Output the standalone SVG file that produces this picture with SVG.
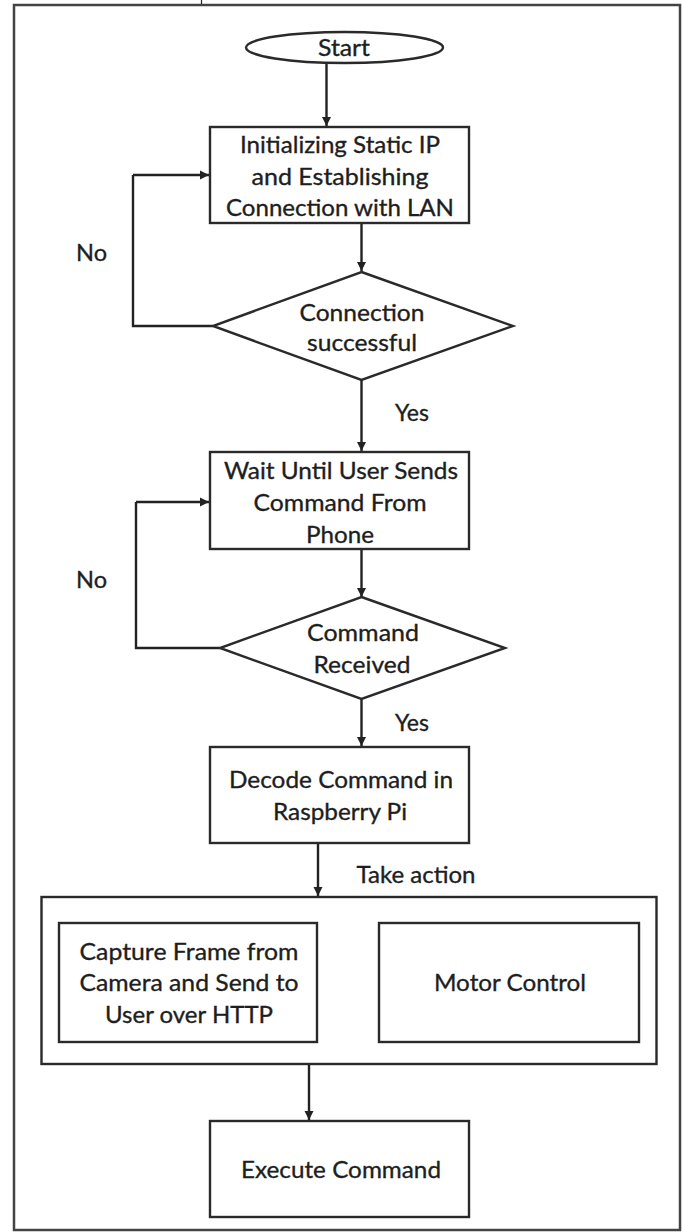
<svg xmlns="http://www.w3.org/2000/svg" width="683" height="1232" viewBox="0 0 683 1232">
<defs>
<marker id="ah" markerWidth="10" markerHeight="10" refX="9" refY="5" orient="auto" markerUnits="userSpaceOnUse">
<path d="M0,0.5 L9,5 L0,9.5 Z" fill="#222"/>
</marker>
<style>
.n{fill:#fff;stroke:#2a2a2a;stroke-width:2.4}
.c{fill:none;stroke:#222;stroke-width:2.4;marker-end:url(#ah)}
.l{fill:none;stroke:#222;stroke-width:2.4}
text{font-family:Lato,"Open Sans","Liberation Sans",sans-serif;font-size:24px;fill:#1e1e1e;stroke:#1e1e1e;stroke-width:0.35;text-anchor:middle}
</style>
</defs>
<rect x="0" y="0" width="683" height="1232" fill="#fff"/>
<rect x="14" y="5" width="666" height="1225" fill="none" stroke="#444" stroke-width="2.5"/>
<path d="M201.5,0 V4" stroke="#222" stroke-width="1.2"/>

<g id="connectors">
<path class="c" d="M326.5,63 V126"/>
<path class="c" d="M361.5,223 V271"/>
<path class="l" d="M213,326 H133 V175"/>
<path class="c" d="M133,175 H209"/>
<path class="c" d="M361.5,380 V451"/>
<path class="c" d="M361.5,549 V597"/>
<path class="l" d="M220,648 H136 V502"/>
<path class="c" d="M136,502 H209"/>
<path class="c" d="M361.5,699 V746"/>
<path class="c" d="M318,843 V896"/>
<path class="c" d="M309,1064 V1120"/>
<text x="91.5" y="261" textLength="31" lengthAdjust="spacingAndGlyphs">No</text>
<text x="412" y="421" textLength="34" lengthAdjust="spacingAndGlyphs">Yes</text>
<text x="91.5" y="588" textLength="31" lengthAdjust="spacingAndGlyphs">No</text>
<text x="412" y="731" textLength="34" lengthAdjust="spacingAndGlyphs">Yes</text>
<text x="416" y="883" textLength="119" lengthAdjust="spacingAndGlyphs">Take action</text>
</g>

<g id="start">
<ellipse class="n" cx="344.5" cy="47.5" rx="98.5" ry="15.5"/>
<text x="344" y="56" textLength="52" lengthAdjust="spacingAndGlyphs">Start</text>
</g>

<g id="init">
<rect class="n" x="210" y="127" width="259" height="96"/>
<text x="340" y="153" textLength="200" lengthAdjust="spacingAndGlyphs">Initializing Static IP</text>
<text x="340" y="185" textLength="177" lengthAdjust="spacingAndGlyphs">and Establishing</text>
<text x="340" y="216" textLength="228" lengthAdjust="spacingAndGlyphs">Connection with LAN</text>
</g>

<g id="conn-ok">
<polygon class="n" points="361.5,272 513,326 361.5,380 213,326"/>
<text x="362" y="321" textLength="125" lengthAdjust="spacingAndGlyphs">Connection</text>
<text x="362" y="351" textLength="110" lengthAdjust="spacingAndGlyphs">successful</text>
</g>

<g id="wait">
<rect class="n" x="210" y="452" width="259" height="97"/>
<text x="341" y="479" textLength="234" lengthAdjust="spacingAndGlyphs">Wait Until User Sends</text>
<text x="340" y="511" textLength="173" lengthAdjust="spacingAndGlyphs">Command From</text>
<text x="340" y="543" textLength="68" lengthAdjust="spacingAndGlyphs">Phone</text>
</g>

<g id="cmd-recv">
<polygon class="n" points="361.5,597 505,648 361.5,699 220,648"/>
<text x="363" y="641" textLength="112" lengthAdjust="spacingAndGlyphs">Command</text>
<text x="362" y="673" textLength="97" lengthAdjust="spacingAndGlyphs">Received</text>
</g>

<g id="decode">
<rect class="n" x="210" y="747" width="259" height="96"/>
<text x="341" y="788" textLength="224" lengthAdjust="spacingAndGlyphs">Decode Command in</text>
<text x="340" y="820" textLength="134" lengthAdjust="spacingAndGlyphs">Raspberry Pi</text>
</g>

<g id="action">
<rect class="n" x="41.5" y="897" width="615" height="167"/>
</g>

<g id="capture">
<rect class="n" x="59" y="923" width="258" height="119"/>
<text x="189" y="960" textLength="219" lengthAdjust="spacingAndGlyphs">Capture Frame from</text>
<text x="189" y="991" textLength="219" lengthAdjust="spacingAndGlyphs">Camera and Send to</text>
<text x="189" y="1023" textLength="168" lengthAdjust="spacingAndGlyphs">User over HTTP</text>
</g>

<g id="motor">
<rect class="n" x="379" y="923" width="260" height="119"/>
<text x="510" y="991" textLength="152" lengthAdjust="spacingAndGlyphs">Motor Control</text>
</g>

<g id="execute">
<rect class="n" x="210" y="1121" width="259" height="96"/>
<text x="341" y="1178" textLength="200" lengthAdjust="spacingAndGlyphs">Execute Command</text>
</g>
</svg>
